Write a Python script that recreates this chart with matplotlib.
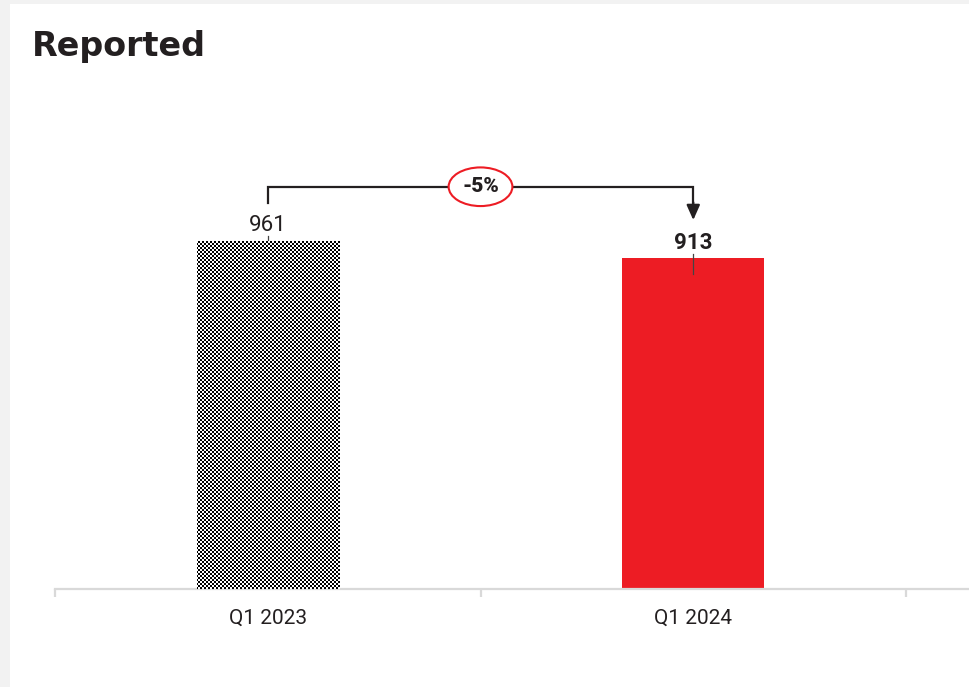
import numpy as np
import matplotlib
matplotlib.use("Agg")
import matplotlib.pyplot as plt

categories = ["Q1 2023", "Q1 2024"]
values = [961, 913]
change_label = "-5%"

RED = "#ED1C24"
DARK = "#231f20"
GRID = "#d9d9d9"

plt.rcParams["font.family"] = ["Roboto", "DejaVu Sans"]

W, H = 969, 687
fig = plt.figure(figsize=(W / 100, H / 100), dpi=100, facecolor="#f2f2f2")

# white card on the light grey page
card = fig.add_axes([10 / W, 0, 1 - 10 / W, 1 - 4 / H])
card.set_facecolor("white")
card.set_xticks([])
card.set_yticks([])
for s in card.spines.values():
    s.set_visible(False)
card.set_zorder(0)

fig.text(32 / W, 1 - 56 / H, "Reported", fontsize=24, fontweight="bold",
         family="DejaVu Sans", color=DARK, va="baseline", ha="left")

ax = fig.add_axes([55 / W, 98 / H, (W - 55) / W, 420 / H])
ax.set_zorder(1)
ax.patch.set_alpha(0)
x = np.arange(len(categories))
ax.set_xlim(-0.5, 1.648)
ax.set_ylim(0, 1160)

bars = ax.bar(x, values, width=0.334, color=["white", RED], zorder=2)

# fine checkerboard fill for the prior-year bar, laid out in screen pixels
fig.canvas.draw()
b0 = bars[0]
ext = b0.get_window_extent()
pw, ph = int(np.ceil(ext.width)) + 2, int(np.ceil(ext.height)) + 2
cell = 2
cx = np.arange(pw) // cell
cy = np.arange(ph) // cell
checker = ((cy[:, None] + cx[None, :]) % 2).astype(float)
rgb = np.repeat(checker[:, :, None], 3, axis=2)
im = fig.figimage(rgb, xo=int(np.floor(ext.x0)), yo=int(np.floor(ext.y0)),
                  origin="lower", zorder=3)
im.set_clip_path(b0)

# value labels with small leader ticks
weights = ["normal", "bold"]
for xi, v, w in zip(x, values, weights):
    ax.text(xi, v + 43, str(v), ha="center", va="center", fontsize=16,
            fontweight=w, color=DARK, zorder=5)
    ax.plot([xi, xi], [v + 13, v - 44], color="#444444", lw=0.9, zorder=5,
            clip_on=False)

# bracket with arrow from first to second bar
top = 1111
ax.plot([x[0], x[0], x[1], x[1]], [values[0] + 105, top, top, values[1] + 150],
        color=DARK, lw=1.6, solid_joinstyle="miter", clip_on=False, zorder=4)
ax.annotate("", xy=(x[1], values[1] + 106), xytext=(x[1], values[1] + 155),
            arrowprops=dict(arrowstyle="-|>,head_length=0.9,head_width=0.4",
                            color=DARK, lw=1.6, shrinkA=0, shrinkB=0),
            annotation_clip=False, zorder=4)
ax.text((x[0] + x[1]) / 2, top, change_label, ha="center", va="center",
        fontsize=15, fontweight="heavy", color=DARK, zorder=6,
        bbox=dict(boxstyle="ellipse,pad=0.2", fc="white", ec=RED, lw=1.5))

# axis styling
for side in ["top", "right", "left"]:
    ax.spines[side].set_visible(False)
ax.spines["bottom"].set_color(GRID)
ax.spines["bottom"].set_linewidth(1.6)
ax.set_yticks([])
ax.set_xticks(x)
ax.set_xticklabels(categories, fontsize=15, color=DARK)
ax.tick_params(axis="x", which="major", length=0, pad=14)
ax.set_xticks([-0.5, 0.5, 1.5], minor=True)
ax.tick_params(axis="x", which="minor", length=6, width=1.6, color=GRID)

fig.savefig("out.png", dpi=100, facecolor=fig.get_facecolor())
